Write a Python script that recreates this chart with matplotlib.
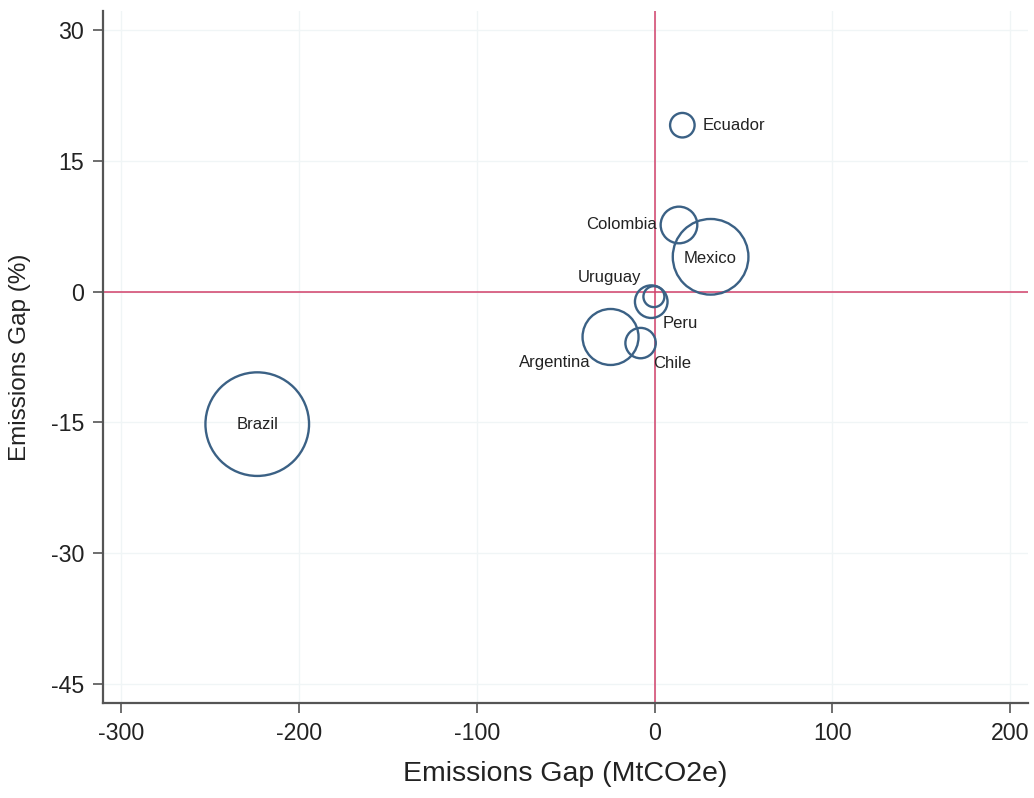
import matplotlib.pyplot as plt

# dane
kraje = ["Brazil", "Mexico", "Argentina", "Colombia", "Peru", "Chile", "Ecuador", "Uruguay"]
luka_mt = [-223.6, 31.5, -24.8, 13.7, -1.9, -7.9, 15.6, -0.4]
luka_proc = [-15.2, 4.0, -5.2, 7.65, -1.15, -5.9, 19.1, -0.57]
waga = [1000, 533, 292, 125, 99, 86, 56, 41]

# polozenie etykiet (przesuniecie w punktach, wyrownanie)
etykiety = {
    "Brazil": ((0, 0), "center"),
    "Mexico": ((0, -1.5), "center"),
    "Argentina": ((-14.5, -18.5), "right"),
    "Colombia": ((-16, 0), "right"),
    "Peru": ((8, -15.5), "left"),
    "Chile": ((9, -14.5), "left"),
    "Ecuador": ((14.5, 0), "left"),
    "Uruguay": ((-9, 13.5), "right"),
}

plt.rcParams['font.family'] = ['Liberation Sans', 'DejaVu Sans']
plt.rcParams['axes.unicode_minus'] = False

fig = plt.figure(figsize=(10.34, 7.98), dpi=100)
ax = fig.add_axes([0.0996, 0.1190, 0.8946, 0.8672])

rozmiar = [w * 5.565 for w in waga]
ax.axvline(0, color="#d1406a", lw=1.1, zorder=2)
ax.axhline(0, color="#d1406a", lw=1.1, zorder=2)
ax.scatter(luka_mt, luka_proc, s=rozmiar, facecolors="none",
           edgecolors="#3b6185", linewidths=1.7, zorder=3)

for k, x, y in zip(kraje, luka_mt, luka_proc):
    off, ha = etykiety[k]
    ax.annotate(k, (x, y), xytext=off, textcoords="offset points",
                ha=ha, va="center", fontsize=12, color="#222222", zorder=4)

ax.set_xlim(-310.4, 210.1)
ax.set_ylim(-47.2, 32.2)
ax.set_xticks([-300, -200, -100, 0, 100, 200])
ax.set_yticks([30, 15, 0, -15, -30, -45])
ax.grid(True, color="#f0f5f6", lw=1.0, zorder=0)
ax.set_axisbelow(True)

ax.spines["top"].set_visible(False)
ax.spines["right"].set_visible(False)
for s in ["left", "bottom"]:
    ax.spines[s].set_color("#555555")
    ax.spines[s].set_linewidth(1.6)
ax.tick_params(axis="both", direction="out", length=7.5, width=1.2,
               color="#555555", labelsize=16.7, labelcolor="#222222", pad=6)

ax.set_xlabel("Emissions Gap (MtCO2e)", fontsize=20.5, color="#222222", labelpad=12)
ax.set_ylabel("Emissions Gap (%)", fontsize=17.5, color="#222222", labelpad=14)

plt.savefig("out.png")
